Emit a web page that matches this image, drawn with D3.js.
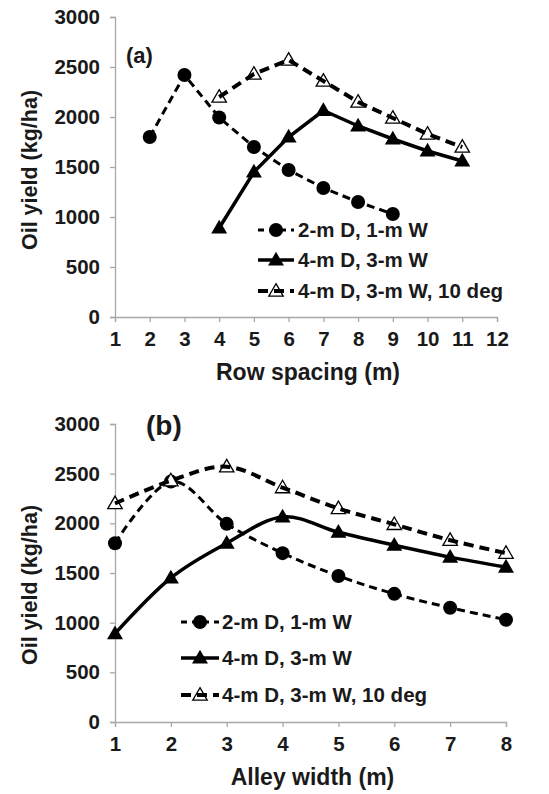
<!DOCTYPE html>
<html><head><meta charset="utf-8">
<script src="https://cdn.jsdelivr.net/npm/d3@7"></script>
<style>
body{margin:0;background:#fff;}
text{font-family:"Liberation Sans",Arial,sans-serif;font-weight:bold;fill:#1a1a1a;}
</style></head>
<body>
<svg id="c" width="549" height="794"></svg>
<script>
// ---- data ----
const rowSpacingTicks = [1,2,3,4,5,6,7,8,9,10,11,12];
const alleyWidthTicks = [1,2,3,4,5,6,7,8];
const yTicks = [0,500,1000,1500,2000,2500,3000];
const seriesNames = ["2-m D, 1-m W","4-m D, 3-m W","4-m D, 3-m W, 10 deg"];
const s1RowSpacing = [2,3,4,5,6,7,8,9];
const s2RowSpacing = [4,5,6,7,8,9,10,11];
const s3RowSpacing = [4,5,6,7,8,9,10,11];
const alleyWidth = [1,2,3,4,5,6,7,8];
const s1Yield = [1800,2420,1995,1700,1470,1290,1150,1030];
const s2Yield = [890,1450,1800,2065,1910,1780,1660,1560];
const s3Yield = [2200,2430,2570,2360,2150,1990,1830,1700];

const svg = d3.select("#c");

const panels = [
  {label:"(a)", labelSize:22, labelPos:[126,63], xTitle:"Row spacing (m)",
   xDomain:[1,12], xRange:[115,497], yRange:[317,17], xTicks:rowSpacingTicks,
   xs:[s1RowSpacing,s2RowSpacing,s3RowSpacing], smooth:false,
   legend:{x0:258,x1:294,tx:298,ys:[230,260,291]}, yTitleY:170, xTitleY:380},
  {label:"(b)", labelSize:28, labelPos:[146,435], xTitle:"Alley width (m)",
   xDomain:[1,8], xRange:[115,506], yRange:[722,424], xTicks:alleyWidthTicks,
   xs:[alleyWidth,alleyWidth,alleyWidth], smooth:true,
   legend:{x0:181,x1:219,tx:222,ys:[622,658,695]}, yTitleY:585, xTitleY:785}
];
const ys = [s1Yield,s2Yield,s3Yield];
const styles = [
  {dash:"8,5", width:3, marker:"circle"},
  {dash:null, width:3.5, marker:"tri"},
  {dash:"10,6", width:4, marker:"otri"}
];

function drawMarker(g, type, x, y){
  if(type==="circle"){
    g.append("circle").attr("cx",x).attr("cy",y).attr("r",7).attr("fill","#000");
  } else if(type==="tri"){
    g.append("path").attr("d",d3.symbol().type(d3.symbolTriangle).size(110)())
      .attr("transform",`translate(${x},${y+1})`).attr("fill","#000");
  } else {
    g.append("path").attr("d",d3.symbol().type(d3.symbolTriangle).size(90)())
      .attr("transform",`translate(${x},${y+1})`).attr("fill","#fff").attr("stroke","#000").attr("stroke-width",1.3);
  }
}

panels.forEach(p=>{
  const x = d3.scaleLinear().domain(p.xDomain).range(p.xRange);
  const y = d3.scaleLinear().domain([0,3000]).range(p.yRange);
  const g = svg.append("g");

  const xa = g.append("g").attr("transform",`translate(0,${p.yRange[0]})`)
    .call(d3.axisBottom(x).tickValues(p.xTicks).tickFormat(d3.format("d")).tickSize(5).tickPadding(9));
  const ya = g.append("g").attr("transform",`translate(${p.xRange[0]},0)`)
    .call(d3.axisLeft(y).tickValues(yTicks).tickFormat(d3.format("d")).tickSize(5).tickPadding(10));
  [xa,ya].forEach(a=>{
    a.selectAll("path,line").attr("stroke","#a8a8a8").attr("stroke-width",1.3);
    a.selectAll("text").style("font-size","20.5px").style("font-family","'Liberation Sans',Arial,sans-serif").style("font-weight","bold").attr("fill","#1a1a1a");
  });

  g.append("text").attr("x",(p.xRange[0]+p.xRange[1])/2+2).attr("y",p.xTitleY)
    .attr("text-anchor","middle").style("font-size","23px").text(p.xTitle);
  g.append("text").attr("transform",`translate(37,${p.yTitleY}) rotate(-90)`)
    .attr("text-anchor","middle").style("font-size","21.5px").text("Oil yield (kg/ha)");
  g.append("text").attr("x",p.labelPos[0]).attr("y",p.labelPos[1])
    .style("font-size",p.labelSize+"px").text(p.label);

  const line = d3.line().x(d=>x(d[0])).y(d=>y(d[1]))
    .curve(p.smooth ? d3.curveCatmullRom.alpha(0) : d3.curveLinear);

  [0,1,2].forEach(i=>{
    const pts = p.xs[i].map((v,j)=>[v, ys[i][j]]);
    const st = styles[i];
    const drawLine = ()=> g.append("path").datum(pts).attr("d",line)
      .attr("fill","none").attr("stroke","#000").attr("stroke-width",st.width)
      .attr("stroke-dasharray",st.dash);
    if(i!==2) drawLine();
    const mg = g.append("g");
    pts.forEach(d=>drawMarker(mg, st.marker, x(d[0]), y(d[1])));
    if(i===2) drawLine();
  });

  const L = p.legend;
  [0,1,2].forEach(i=>{
    const st = styles[i];
    const yy = L.ys[i];
    const lg = g.append("g");
    if(i===2) drawMarker(lg, st.marker, (L.x0+L.x1)/2, yy);
    lg.append("line").attr("x1",L.x0).attr("x2",L.x1).attr("y1",yy).attr("y2",yy)
      .attr("stroke","#000").attr("stroke-width",st.width)
      .attr("stroke-dasharray", i===1 ? null : (i===0 ? "6,5" : "10,6"));
    if(i!==2) drawMarker(lg, st.marker, (L.x0+L.x1)/2, yy);
    lg.append("text").attr("x",L.tx).attr("y",yy+7).style("font-size","20.5px").text(seriesNames[i]);
  });
});
</script>
</body></html>
